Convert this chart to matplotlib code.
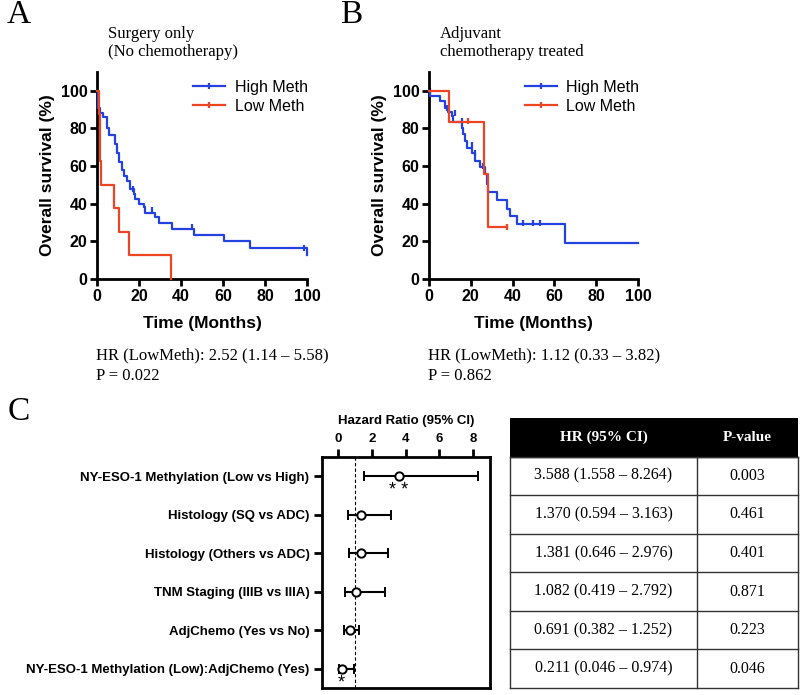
import matplotlib
matplotlib.use("Agg")
import matplotlib.pyplot as plt
from matplotlib.lines import Line2D
import numpy as np

plt.rcParams["font.family"] = "Liberation Sans"
SERIF = "Liberation Serif"

BLUE = "#2342E0"
RED = "#EB4524"

# ---- Panel A: surgery only (step curves, months / % survival) ----
a_high_t = [0, 0.6, 1.6, 3, 4.7, 5.5, 8.5, 9.3, 10.3, 11.7, 12.7, 14.5, 15.9, 17.5,
            18.3, 19.8, 22.2, 23, 27.5, 29.5, 35.5, 46, 60.3, 73, 99.8, 100]
a_high_s = [100, 91, 88, 86, 80, 76.5, 72, 67, 62, 58, 55, 52, 48, 45,
            42.5, 40, 38, 35, 33, 29.5, 26.5, 23.3, 20, 16.3, 12.8, 12.8]
a_high_cens_t = [17, 26, 45, 98.5]
a_high_cens_s = [48, 36.5, 27.5, 16.3]
a_low_t = [0, 1, 1.3, 1.6, 2, 7.9, 10.3, 15.1, 35.4]
a_low_s = [100, 87.5, 75, 62.5, 50, 37.5, 25, 12.5, 0]

# ---- Panel B: adjuvant chemotherapy ----
b_high_t = [0, 0.5, 5.3, 7.6, 9.2, 10.8, 11.6, 15.6, 16.4, 17.2, 18, 20.4, 22,
            24.4, 26.8, 27.9, 28.3, 32.3, 37.4, 38.7, 42.2, 65.3, 100]
b_high_s = [100, 97.4, 94.4, 91, 89, 86.5, 83.5, 80.4, 76.8, 73.3, 69.8, 67.2, 62.8,
            59.3, 55.8, 50.5, 46.1, 41.8, 37.4, 33.3, 29.1, 19.3, 19.3]
b_high_cens_t = [0.5, 8.4, 12.4, 15.6, 20.4, 22, 26, 45, 49.8, 53]
b_high_cens_s = [100, 91, 88, 84, 71, 67, 60, 30, 30, 30]
b_low_t = [0, 9.6, 26.5, 28.3, 37.5]
b_low_s = [100, 83.3, 55.6, 27.8, 27.8]
b_low_cens_t = [18.8, 37.5]
b_low_cens_s = [84, 27.8]

hr_text_a = ["HR (LowMeth): 2.52 (1.14 \u2013 5.58)", "P = 0.022"]
hr_text_b = ["HR (LowMeth): 1.12 (0.33 \u2013 3.82)", "P = 0.862"]

# ---- Panel C: multivariate Cox model ----
terms = ["NY-ESO-1 Methylation (Low vs High)", "Histology (SQ vs ADC)",
         "Histology (Others vs ADC)", "TNM Staging (IIIB vs IIIA)",
         "AdjChemo (Yes vs No)", "NY-ESO-1 Methylation (Low):AdjChemo (Yes)"]
hr = [3.588, 1.370, 1.381, 1.082, 0.691, 0.211]
ci_lo = [1.558, 0.594, 0.646, 0.419, 0.382, 0.046]
ci_hi = [8.264, 3.163, 2.976, 2.792, 1.252, 0.974]
pvals = ["0.003", "0.461", "0.401", "0.871", "0.223", "0.046"]
stars = ["* *", "", "", "", "", "*"]

W, H = 800, 695
fig = plt.figure(figsize=(W / 100, H / 100), dpi=100)


def box(l, t, r, b):
    return [l / W, 1 - b / H, (r - l) / W, (b - t) / H]


def km_axes(rect, high, low, high_c, low_c, title, hrlines, letter, lx, tx):
    ax = fig.add_axes(rect)
    ax.step(high[0], high[1], where="post", color=BLUE, lw=1.6, clip_on=False, zorder=3)
    ax.step(low[0], low[1], where="post", color=RED, lw=1.6, clip_on=False, zorder=4)
    ax.plot(high_c[0], high_c[1], ls="none", marker="|", ms=5, mew=1.6, color=BLUE, clip_on=False)
    if low_c is not None:
        ax.plot(low_c[0], low_c[1], ls="none", marker="|", ms=5, mew=1.6, color=RED, clip_on=False)
    ax.set_xlim(0, 100)
    ax.set_ylim(0, 110)
    ax.set_xticks(range(0, 101, 20))
    ax.set_yticks(range(0, 101, 20))
    for s in ["top", "right"]:
        ax.spines[s].set_visible(False)
    for s in ["left", "bottom"]:
        ax.spines[s].set_linewidth(2.0)
    ax.tick_params(width=2.0, length=5, labelsize=11.5, pad=2)
    for lab in ax.get_xticklabels() + ax.get_yticklabels():
        lab.set_fontweight("bold")
    ax.set_xlabel("Time (Months)", fontsize=12.5, fontweight="bold", labelpad=9)
    ax.set_ylabel("Overall survival (%)", fontsize=12.5, fontweight="bold", labelpad=4)
    handles = [Line2D([], [], color=BLUE, lw=1.6, marker="|", ms=5, mew=1.6),
               Line2D([], [], color=RED, lw=1.6, marker="|", ms=5, mew=1.6)]
    ax.legend(handles, ["High Meth", "Low Meth"], loc="upper left",
              bbox_to_anchor=(0.42, 1.0), frameon=False, fontsize=11.5,
              handlelength=2.0, handletextpad=0.6, labelspacing=0.25, borderpad=0)
    fig.text(lx / W, 1 - 15 / H, letter, family=SERIF, fontsize=24, va="center")
    fig.text(tx / W, 1 - 43 / H, title, family=SERIF, fontsize=12, va="center",
             linespacing=1.25)
    fig.text(tx / W - 12 / W, 1 - 355 / H, hrlines[0], family=SERIF, fontsize=12, va="center")
    fig.text(tx / W - 12 / W, 1 - 376 / H, hrlines[1], family=SERIF, fontsize=12, va="center")
    return ax


km_axes(box(97, 72, 307, 279), (a_high_t, a_high_s), (a_low_t, a_low_s),
        (a_high_cens_t, a_high_cens_s), None,
        "Surgery only\n(No chemotherapy)", hr_text_a, "A", 7, 108)
km_axes(box(429, 72, 638, 279), (b_high_t, b_high_s), (b_low_t, b_low_s),
        (b_high_cens_t, b_high_cens_s), (b_low_cens_t, b_low_cens_s),
        "Adjuvant\nchemotherapy treated", hr_text_b, "B", 340, 440)

# ---- forest plot ----
n = len(terms)
ypos = np.arange(n)[::-1]
hr_a = np.array(hr)
fx = fig.add_axes(box(322, 457, 490, 688))
fx.axvline(1, color="black", lw=0.8, ls=(0, (3, 2)), zorder=1)
fx.errorbar(hr_a, ypos, xerr=[hr_a - np.array(ci_lo), np.array(ci_hi) - hr_a],
            fmt="o", mfc="white", mec="black", mew=1.4, ms=6, ecolor="black",
            elinewidth=1.5, capsize=3.5, capthick=1.5, zorder=3)
for yy, x, s in zip(ypos, hr, stars):
    if s:
        fx.text(x, yy - 0.36, s, ha="center", va="center", fontsize=13)
fx.set_xlim(-0.95, 9.0)
fx.set_ylim(-0.5, n - 0.5)
fx.set_xticks([0, 2, 4, 6, 8])
fx.xaxis.tick_top()
fx.set_yticks(ypos)
fx.set_yticklabels(terms)
for sp in fx.spines.values():
    sp.set_linewidth(2.0)
fx.tick_params(width=2.0, length=6, labelsize=9.5, pad=3)
for lab in fx.get_xticklabels() + fx.get_yticklabels():
    lab.set_fontweight("bold")
fig.text(406 / W, 1 - 421 / H, "Hazard Ratio (95% CI)", ha="center", va="center",
         fontsize=9.5, fontweight="bold")
fig.text(8 / W, 1 - 412 / H, "C", family=SERIF, fontsize=24, va="center")

# ---- table ----
tx = fig.add_axes(box(510, 418, 798, 688))
tx.set_xlim(0, 1)
tx.set_ylim(0, n + 1)
tx.axis("off")
split = 0.649
tx.add_patch(plt.Rectangle((0, n), 1, 1, color="black"))
tx.text(split / 2, n + 0.5, "HR (95% CI)", ha="center", va="center", color="white",
        family=SERIF, fontsize=11, fontweight="bold")
tx.text((split + 1) / 2, n + 0.5, "P-value", ha="center", va="center", color="white",
        family=SERIF, fontsize=11, fontweight="bold")
for i in range(n):
    yy = n - 1 - i + 0.5
    tx.text(split / 2, yy, f"{hr[i]:.3f} ({ci_lo[i]:.3f} \u2013 {ci_hi[i]:.3f})",
            ha="center", va="center", family=SERIF, fontsize=11.5)
    tx.text((split + 1) / 2, yy, pvals[i], ha="center", va="center",
            family=SERIF, fontsize=11.5)
for k in range(n + 1):
    tx.plot([0, 1], [k, k], color="#333333", lw=1.0, clip_on=False)
for xv in [0, split, 1]:
    tx.plot([xv, xv], [0, n], color="#333333", lw=1.0, clip_on=False)

fig.savefig("out.png", dpi=100)
